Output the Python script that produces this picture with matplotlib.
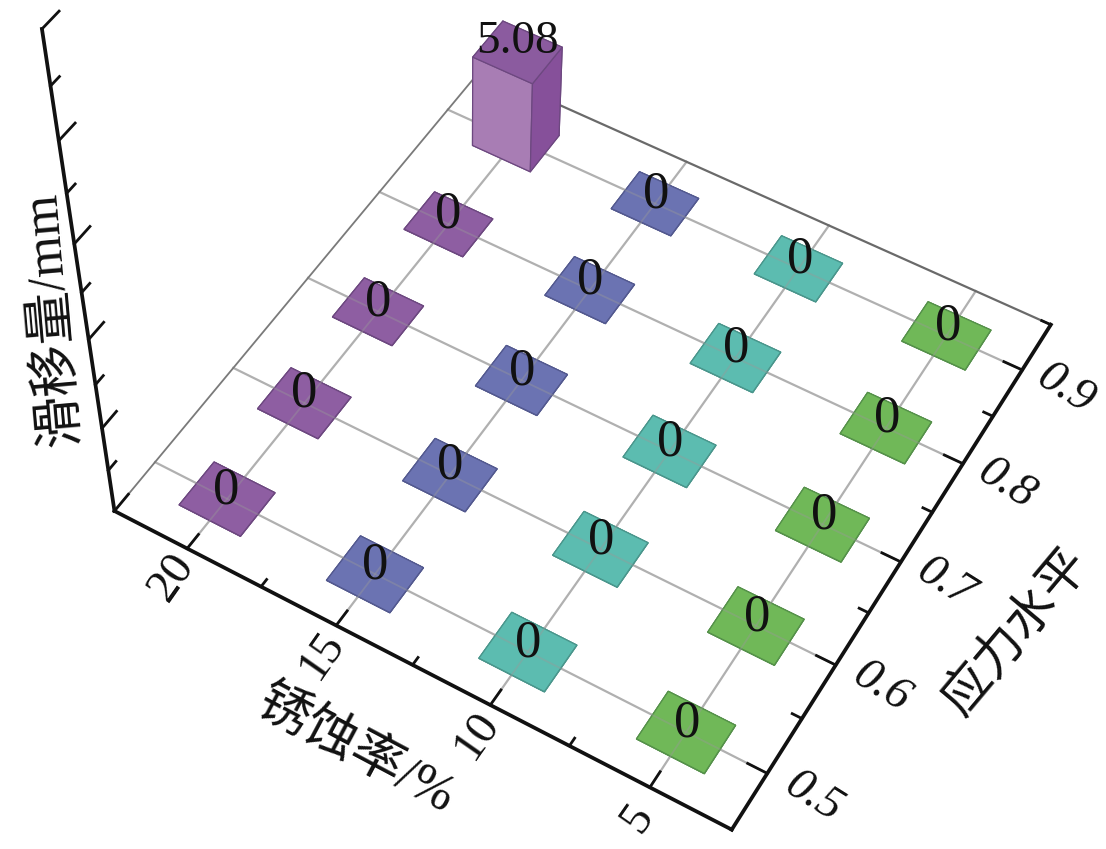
import numpy as np
import matplotlib
matplotlib.use("Agg")
import matplotlib.pyplot as plt
from mpl_toolkits.mplot3d import proj3d

corrosion = [5, 10, 15, 20]
stress = [0.5, 0.6, 0.7, 0.8, 0.9]
# slip per corrosion rate, one row per corrosion value, columns follow stress
slip_5 = [0, 0, 0, 0, 0]
slip_10 = [0, 0, 0, 0, 0]
slip_15 = [0, 0, 0, 0, 0]
slip_20 = [0, 0, 0, 0, 5.08]
slip = [slip_5, slip_10, slip_15, slip_20]

x_major = [5, 10, 15, 20]
x_minor = [7.5, 12.5, 17.5]
y_major = [0.5, 0.6, 0.7, 0.8, 0.9]
y_minor = [0.55, 0.65, 0.75, 0.85, 0.95]
z_major = [0, 5, 10, 15, 20, 25]
z_minor = [2.5, 7.5, 12.5, 17.5, 22.5]
x_lim = (2.5, 22.5)
y_lim = (0.45, 0.95)
z_lim = (0, 25)

tile_colors = ["#70b858", "#5cbcb0", "#6b73b2", "#8e5ea2"]
edge_colors = ["#55914a", "#4a968c", "#53598f", "#6d4880"]
# faces: -Z, +Z, -Y, +Y, -X, +X
tall_bar_faces = ["#8b5b9f", "#8b5b9f", "#a87db4", "#a87db4", "#86509a", "#86509a"]
bar_dx = 2.1
bar_dy = 0.044

W, H = 1106, 849

# camera: where known points of the box sit in the picture
cam_data = [(22.5, .45, 0), (2.5, .45, 0), (2.5, .95, 0), (22.5, .95, 0), (22.5, .45, 25),
            (18.95, .878, 0), (21.05, .878, 0), (18.95, .922, 0),
            (18.95, .878, 5.08), (21.05, .878, 5.08), (18.95, .922, 5.08), (21.05, .922, 5.08)]
cam_px = [(114, 510), (733, 830), (1050, 325), (481, 71), (42, 29),
          (528, 173), (472, 147), (562, 132),
          (528, 83), (472, 62), (563, 45), (507, 19)]


def fit_camera(pts, px):
    rows = []
    rhs = []
    for (x, y, z), (u, v) in zip(pts, px):
        x, z = x / 20, z / 25
        rows.append([x, y, z, 1, 0, 0, 0, 0, -u * x, -u * y, -u * z])
        rhs.append(u)
        rows.append([0, 0, 0, 0, x, y, z, 1, -v * x, -v * y, -v * z])
        rhs.append(v)
    p = np.linalg.lstsq(np.array(rows, float), np.array(rhs, float), rcond=None)[0]
    p = np.append(p, 1).reshape(3, 4)
    p[:, 0] /= 20
    p[:, 2] /= 25
    depth = [1 / 20, 2, -3 / 25, 0]
    return np.array([p[0], p[1], depth, p[2]])


cam = fit_camera(cam_data, cam_px)

fig = plt.figure(figsize=(W / 100, H / 100), dpi=100)
# square axes 1106 px wide, so that 2d data units are picture pixels
ax = fig.add_axes([0, -(W - H) / 2 / H, 1, W / H], projection="3d", computed_zorder=False)
ax.set_axis_off()
ax.set_proj_type("ortho")
ax.get_proj = lambda: cam
ax.viewLim.intervalx = (0, W)
ax.viewLim.intervaly = (H + (W - H) / 2, -(W - H) / 2)


def put_text(x, y, z, s, **kw):
    # Text3D ignores rotation, so place a plain text at the projected point
    u, v, _ = proj3d.proj_transform(x, y, z, cam)
    ax.text2D(u, v, s, transform=ax.transData, ha="center", va="center", color="#111111", zorder=5, **kw)


# grid and back edges of the floor
for x in corrosion:
    ax.plot([x, x], y_lim, [0, 0], color="#b0b0b0", lw=1.6, zorder=1)
for y in stress:
    ax.plot(x_lim, [y, y], [0, 0], color="#b0b0b0", lw=1.6, zorder=1)
ax.plot([x_lim[1], x_lim[1]], y_lim, [0, 0], color="#7a7a7a", lw=1.3, zorder=1)
ax.plot(x_lim, [y_lim[1], y_lim[1]], [0, 0], color="#6a6a6a", lw=1.6, zorder=1)

# bold axes
ax.plot(x_lim, [y_lim[0], y_lim[0]], [0, 0], color="#111111", lw=2.7, zorder=2)
ax.plot([x_lim[0], x_lim[0]], y_lim, [0, 0], color="#111111", lw=2.7, zorder=2)
ax.plot([x_lim[1], x_lim[1]], [y_lim[0], y_lim[0]], z_lim, color="#111111", lw=2.7, zorder=2)

# ticks
for x in x_major:
    ax.plot([x, x], [y_lim[0], y_lim[0] + 0.014], [0, 0], color="#111111", lw=2, zorder=2)
for x in x_minor:
    ax.plot([x, x], [y_lim[0], y_lim[0] + 0.007], [0, 0], color="#111111", lw=2, zorder=2)
for y in y_major:
    ax.plot([x_lim[0], x_lim[0] + 0.6], [y, y], [0, 0], color="#111111", lw=2, zorder=2)
for y in y_minor:
    ax.plot([x_lim[0], x_lim[0] + 0.3], [y, y], [0, 0], color="#111111", lw=2, zorder=2)
for z in z_major:
    ax.plot([x_lim[1], x_lim[1]], [y_lim[0], y_lim[0] + 0.017], [z, z], color="#111111", lw=2, zorder=2)
for z in z_minor:
    ax.plot([x_lim[1], x_lim[1]], [y_lim[0], y_lim[0] + 0.009], [z, z], color="#111111", lw=2, zorder=2)

# bars, the zero ones are just flat tiles
for i, x in enumerate(corrosion):
    for j, y in enumerate(stress):
        value = slip[i][j]
        faces = tall_bar_faces if value > 0 else tile_colors[i]
        ax.bar3d(x - bar_dx / 2, y - bar_dy / 2, 0, bar_dx, bar_dy, value, color=faces,
                 edgecolor=edge_colors[i], linewidth=0.9, shade=False, zorder=3)
        if value == 0:
            # grid shows faintly through the tile
            ax.plot([x - bar_dx / 2, x + bar_dx / 2], [y, y], [0, 0], color="#999999", alpha=0.4, lw=1.3, zorder=4)
            ax.plot([x, x], [y - bar_dy / 2, y + bar_dy / 2], [0, 0], color="#999999", alpha=0.4, lw=1.3, zorder=4)
        put_text(x, y, value + 0.55, str(value), family="Liberation Serif", fontsize=34 if value > 0 else 38)

# tick labels
for x in x_major:
    put_text(x - 0.2, 0.425, 0, str(x), family="Liberation Serif", fontsize=34, rotation=55)
for y in y_major:
    put_text(1.1, y, 0, str(y), family="Liberation Serif", style="italic", fontsize=34, rotation=-32)

# axis titles
title_font = ["Liberation Serif", "Noto Sans CJK SC"]
ax.text2D(52 / W, 1 - 318 / H, "滑移量/mm", transform=fig.transFigure, family=title_font, fontsize=38,
          rotation=95, ha="center", va="center", color="#111111")
ax.text2D(355 / W, 1 - 750 / H, "锈蚀率/%", transform=fig.transFigure, family=title_font, fontsize=38,
          rotation=-28, ha="center", va="center", color="#111111")
ax.text2D(1016 / W, 1 - 632 / H, "应力水平", transform=fig.transFigure, family=title_font, fontsize=36,
          rotation=50, ha="center", va="center", color="#111111")

fig.savefig("out.png", dpi=100)
